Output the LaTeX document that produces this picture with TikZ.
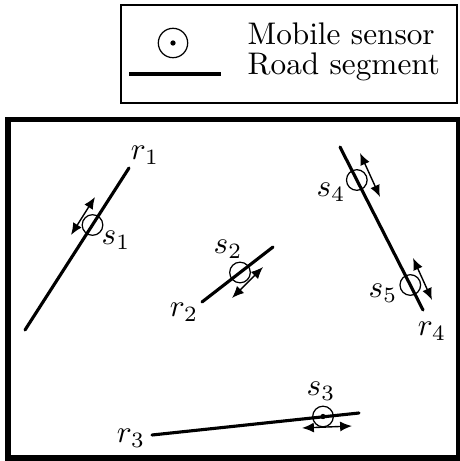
\documentclass[tikz,border=0pt]{standalone}
\usetikzlibrary{arrows.meta,positioning,calc}
\tikzset{
  sensorbox/.style={circle, draw, line width=0.4pt, minimum size=6.6pt, inner sep=0pt},
  legsensor/.style={circle, draw, line width=0.4pt, minimum size=9.4pt, inner sep=0pt},
  dotmark/.style={circle, fill, minimum size=1.7pt, inner sep=0pt},
  road/.style={line width=1pt, line cap=round},
  move/.style={{Latex[length=3.8pt,width=3.2pt]}-{Latex[length=3.8pt,width=3.2pt]}, line width=0.45pt},
  lbl/.style={inner sep=0pt, font=\normalsize},
  legtext/.style={inner sep=0pt, anchor=base west, font=\normalsize}}

\begin{document}
\begin{tikzpicture}[x=0.32pt, y=-0.32pt]
    \useasboundingbox (0,0) rectangle (460,461);
    % legend
    \draw[line width=0.6pt] (121,5) rectangle (457,103);
    \node[legsensor] (legs) at (173,43) {};
    \node[dotmark] at (legs.center) {};
    \coordinate (legra) at (129,74);
    \coordinate (legrb) at (221,74);
    \draw[road, line cap=butt] (legra) -- (legrb);
    \node[legtext] (legt1) at (247,45) {Mobile sensor};
    \node[legtext] (legt2) at (247,75) {Road segment};
    % field
    \draw[line width=1.9pt] (8,119.5) rectangle (459,458);
    \coordinate (r1a) at (25,330);  \coordinate (r1b) at (129,168);
    \coordinate (r2a) at (202,302); \coordinate (r2b) at (273,247);
    \coordinate (r3a) at (152,435); \coordinate (r3b) at (359,413);
    \coordinate (r4a) at (340,147); \coordinate (r4b) at (423,310);
    \draw[road] (r1a) -- (r1b);
    \draw[road] (r2a) -- (r2b);
    \draw[road] (r3a) -- (r3b);
    \draw[road] (r4a) -- (r4b);
    \node[lbl] (lr1) at (145,155) {$r_1$};
    \node[lbl] (lr2) at (184,312) {$r_2$};
    \node[lbl] (lr3) at (131,438) {$r_3$};
    \node[lbl] (lr4) at (432,331) {$r_4$};
    % sensors
    \node[sensorbox] (s1) at (92.5,225) {};
    \node[sensorbox] (s2) at (240,272.5) {};
    \node[sensorbox] (s3) at (323,416.5) {};
    \node[sensorbox] (s4) at (356.8,180) {};
    \node[sensorbox] (s5) at (410.3,285) {};
    \node[dotmark] at (s3.center) {};
    \node[lbl] (ls1) at (116,240) {$s_1$};
    \node[lbl] (ls2) at (228,249) {$s_2$};
    \node[lbl] (ls3) at (321,391) {$s_3$};
    \node[lbl] (ls4) at (331,192) {$s_4$};
    \node[lbl] (ls5) at (383,293) {$s_5$};
    \coordinate (m1a) at (71,235);  \coordinate (m1b) at (95,197);
    \coordinate (m2a) at (232,298); \coordinate (m2b) at (263,267);
    \coordinate (m3a) at (302,428); \coordinate (m3b) at (352,426);
    \coordinate (m4a) at (360,153); \coordinate (m4b) at (380,197);
    \coordinate (m5a) at (413,258); \coordinate (m5b) at (432,300);
    \draw[move] (m1a) -- (m1b);
    \draw[move] (m2a) -- (m2b);
    \draw[move] (m3a) -- (m3b);
    \draw[move] (m4a) -- (m4b);
    \draw[move] (m5a) -- (m5b);
\end{tikzpicture}
\end{document}
